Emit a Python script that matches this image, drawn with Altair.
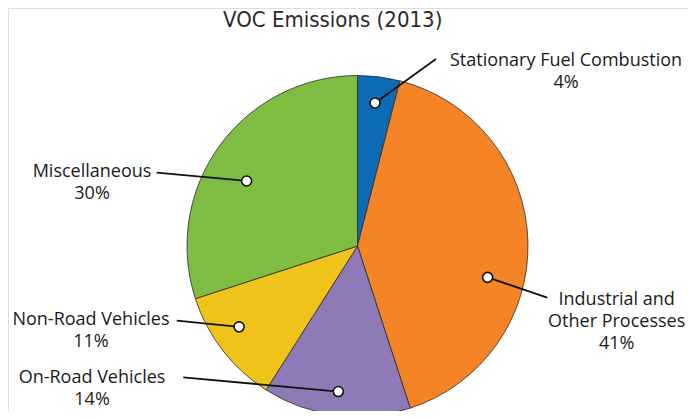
import math
import altair as alt
import pandas as pd

# ---- data ----
categories = ["Stationary Fuel Combustion", "Industrial and Other Processes",
              "On-Road Vehicles", "Non-Road Vehicles", "Miscellaneous"]
values = [4, 41, 14, 11, 30]
label_names = ["Stationary Fuel Combustion", "Industrial and\nOther Processes",
               "On-Road Vehicles", "Non-Road Vehicles", "Miscellaneous"]
title_text = "VOC Emissions  (2013)"

# ---- styles / layout (unit = pie radius) ----
colors = ["#0b6cb5", "#f58426", "#8f7ab8", "#f0c31a", "#7fbc42"]
dot_frac = [0.485, 0.604, 0.506, 0.588, 0.448]   # position of the dot inside each slice
dot_r = [0.845, 0.785, 0.861, 0.841, 0.754]
leader_end_x = [0.460, 1.113, -1.022, -1.060, -1.178]
leader_end_y = [1.097, -0.303, -0.770, -0.438, 0.430]
text_x = [1.223, 1.520, -1.557, -1.563, -1.557]
text_y = [1.056, -0.346, -0.802, -0.463, 0.403]
title_x, title_y = -0.145, 1.286

W, H = 680, 403
R = 170.5
CX, CY = 349.5, 238.0
xdom = [-CX / R, (W - CX) / R]
ydom = [-(H - CY) / R, CY / R]

total = sum(values)
rows = []
start = 0.0
for i, (c, v) in enumerate(zip(categories, values)):
    a0 = start / total * 2 * math.pi
    a1 = (start + v) / total * 2 * math.pi
    a = a0 + dot_frac[i] * (a1 - a0)
    rows.append(dict(
        idx=i, cat=c, value=v,
        dx=dot_r[i] * math.sin(a), dy=dot_r[i] * math.cos(a),
        lx=leader_end_x[i], ly=leader_end_y[i],
        tx=text_x[i], ty=text_y[i],
        label=f"{label_names[i]}\n{v}%",
    ))
    start += v
df = pd.DataFrame(rows)

xs = alt.Scale(domain=xdom, nice=False, zero=False)
ys = alt.Scale(domain=ydom, nice=False, zero=False)

base = alt.Chart(df)

arc = base.mark_arc(radius=R, stroke="#2b2b2b", strokeWidth=0.8).encode(
    theta=alt.Theta("value:Q", stack=True),
    order=alt.Order("idx:Q"),
    color=alt.Color("cat:N", scale=alt.Scale(domain=categories, range=colors), legend=None),
    x=alt.datum(0, scale=xs, axis=None),
    y=alt.datum(0, scale=ys, axis=None),
)

rules = base.mark_rule(color="#111111", strokeWidth=1.8).encode(
    x=alt.X("dx:Q", scale=xs, axis=None),
    y=alt.Y("dy:Q", scale=ys, axis=None),
    x2="lx:Q",
    y2="ly:Q",
)

dots = base.mark_point(filled=True, fill="white", stroke="#111111", strokeWidth=1.6,
                       size=100, opacity=1, shape="circle").encode(
    x=alt.X("dx:Q", scale=xs, axis=None),
    y=alt.Y("dy:Q", scale=ys, axis=None),
)

labels = base.mark_text(font="Open Sans", fontSize=18, color="#1a1a1a",
                        align="center", baseline="alphabetic",
                        lineBreak="\n", lineHeight=22).encode(
    x=alt.X("tx:Q", scale=xs, axis=None),
    y=alt.Y("ty:Q", scale=ys, axis=None),
    text="label:N",
)

title_df = pd.DataFrame({"tx": [title_x], "ty": [title_y], "t": [title_text]})
title = alt.Chart(title_df).mark_text(font="DejaVu Sans Condensed", fontSize=22,
                                      color="#2a2a2a", align="center",
                                      baseline="alphabetic").encode(
    x=alt.X("tx:Q", scale=xs, axis=None),
    y=alt.Y("ty:Q", scale=ys, axis=None),
    text="t:N",
)

chart = alt.layer(arc, rules, dots, labels, title).properties(
    width=W, height=H, autosize=alt.AutoSizeParams(type="none"), padding=0,
).configure_view(stroke=None).configure(background="white")

chart.save("out.html", embed_options={"renderer": "svg", "actions": False})
